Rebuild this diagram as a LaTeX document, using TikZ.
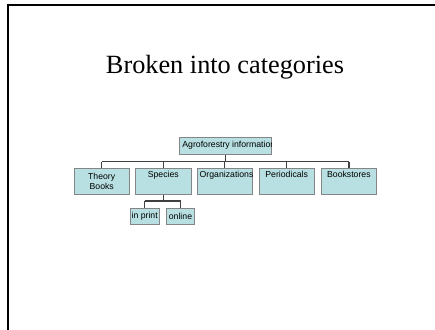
\documentclass[tikz,border=0pt]{standalone}
\usepackage{fontspec}
\setmainfont{Liberation Serif}
\newfontfamily\arialf{Liberation Sans}
\usetikzlibrary{calc}
\definecolor{boxfill}{HTML}{B8DFE1}
\definecolor{boxline}{HTML}{858585}
\definecolor{connline}{HTML}{404040}
\tikzset{
  box/.style={draw=boxline, fill=boxfill, line width=0.9pt, inner sep=0pt, minimum height=26pt, minimum width=55.5pt},
  subbox/.style={box, minimum height=16pt},
  lbl/.style={font=\arialf\fontsize{8.7}{10}\selectfont, inner sep=0pt, align=center, text=black},
  conn/.style={draw=connline, line width=1.3pt},
}
\begin{document}
\begin{tikzpicture}[x=1pt,y=-1pt]
\useasboundingbox (0,0) rectangle (435,329);
\draw[line width=2.2pt] (8,331) -- (8,5) -- (437,5);
\node[font=\fontsize{26.3}{30}\selectfont, anchor=base, inner sep=0pt] (title) at (225,73.7) {Broken into categories};

\coordinate (bus) at (0,161.7);
\coordinate (sbus) at (0,201);

\node[box, minimum width=91.7pt, minimum height=16.7pt] (top) at (225.2,145.7) {};
\node[box] (t1) at (101.7,181.3) {};
\node[box] (t2) at (163.3,181.3) {};
\node[box] (t3) at (224.7,181.3) {};
\node[box] (t4) at (286.7,181.3) {};
\node[box] (t5) at (348.9,181.3) {};
\node[subbox, minimum width=29.3pt] (s1) at (144.7,216.3) {};
\node[subbox, minimum width=27.6pt] (s2) at (180.5,216.3) {};

\begin{scope}
\clip (top.north west) rectangle (top.south east);
\node[lbl, anchor=west] (toplbl) at ([xshift=3.3pt]top.west) {Agroforestry information};
\end{scope}
\node[lbl, anchor=north] (l1) at ([yshift=-4.8pt]t1.north) {Theory\\Books};
\node[lbl, anchor=north] (l2) at ([yshift=-3pt]t2.north) {Species};
\begin{scope}
\clip (t3.north west) rectangle (t3.south east);
\node[lbl, anchor=north west] (l3) at ([xshift=3pt,yshift=-3pt]t3.north west) {Organizations};
\end{scope}
\node[lbl, anchor=north] (l4) at ([yshift=-3pt]t4.north) {Periodicals};
\node[lbl, anchor=north] (l5) at ([yshift=-3pt]t5.north) {Bookstores};
\node[lbl] (m1) at (s1.center) {in print};
\node[lbl] (m2) at (s2.center) {online};

\draw[conn] (top.south) -- (top.south |- bus);
\draw[conn] (t1.north |- bus) -- (t5.north |- bus);
\foreach \n in {t1,t2,t3,t4,t5} {\draw[conn] (\n.north) -- (\n.north |- bus);}
\draw[conn] (t2.south) -- (t2.south |- sbus);
\draw[conn] (s1.north |- sbus) -- (s2.north |- sbus);
\draw[conn] (s1.north) -- (s1.north |- sbus);
\draw[conn] (s2.north) -- (s2.north |- sbus);
\end{tikzpicture}
\end{document}
